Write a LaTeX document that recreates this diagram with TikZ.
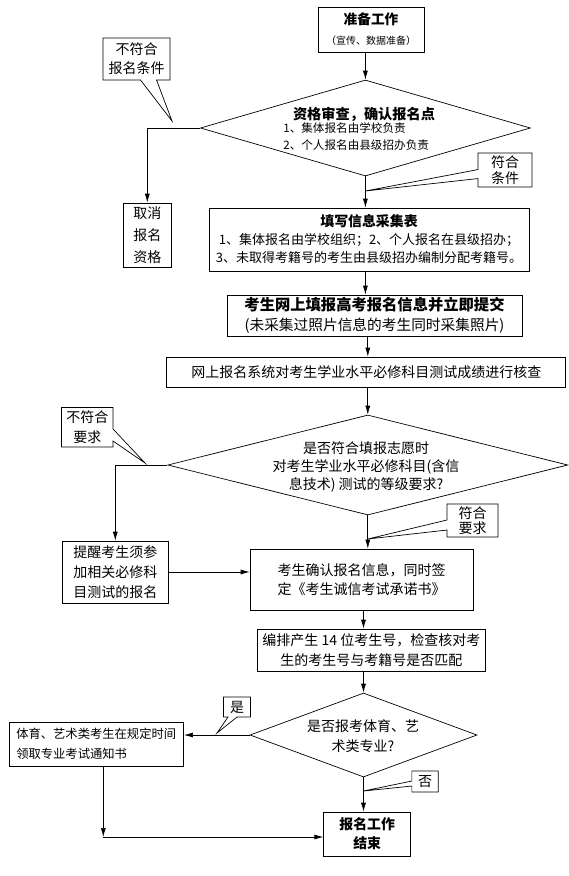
\documentclass[tikz,border=0pt]{standalone}
\usepackage{fontspec}
\setmainfont{Noto Sans CJK SC}
\usetikzlibrary{shapes.geometric,shapes.callouts,arrows.meta}

\begin{document}
\begin{tikzpicture}[x=1pt,y=-1pt,line width=0.7pt,
    box/.style={draw,rectangle,inner sep=0pt,align=center,font=\fontsize{14}{20}\selectfont},
    decision/.style={draw,diamond,inner sep=0pt},
    note/.style={draw,fill=white,rectangle callout,inner sep=0pt,align=center,font=\fontsize{14}{19}\selectfont},
    arr/.style={-{Latex[length=9pt,width=5pt]}}]
  \useasboundingbox (0,0) rectangle (568,876);

  \node[box,minimum width=106pt,minimum height=45pt] (prep) at (371,29.5) {{\bfseries\fontsize{13.7}{20}\selectfont 准备工作}\\{\fontsize{10}{12}\selectfont （宣传、数据准备）}};
  \node[decision,minimum width=330pt,minimum height=96pt] (d1) at (365.4,128) {};
  \node[font=\bfseries\fontsize{14.2}{17}\selectfont] (d1title) at (364,114) {资格审查，确认报名点};
  \node[align=left,anchor=west,inner sep=0pt,font=\fontsize{11.6}{17}\selectfont] (d1list) at (283,136.5) {1、集体报名由学校负责\\2、个人报名由县级招办负责};
  \node[box,minimum width=48.5pt,minimum height=64pt,font=\fontsize{14}{21.7}\selectfont] (cancel) at (147.3,235) {取消\\报名\\资格};
  \node[box,minimum width=320pt,minimum height=63pt,font=\fontsize{13}{18}\selectfont] (fill) at (369,239.5) {{\bfseries\fontsize{13.9}{18}\selectfont 填写信息采集表}\\1、集体报名由学校组织；2、个人报名在县级招办；\\3、未取得考籍号的考生由县级招办编制分配考籍号。};
  \node[box,minimum width=295pt,minimum height=41pt] (online) at (374.5,315.5) {{\bfseries\fontsize{15.3}{20}\selectfont 考生网上填报高考报名信息并立即提交}\\{\fontsize{14.7}{20}\selectfont (未采集过照片信息的考生同时采集照片)}};
  \node[box,minimum width=399pt,minimum height=30pt] (check) at (366.3,372) {网上报名系统对考生学业水平必修科目测试成绩进行核查};
  \node[decision,minimum width=400pt,minimum height=100pt] (d2) at (367.8,465) {};
  \node[align=center,font=\fontsize{14}{18}\selectfont] (d2text) at (366,467) {是否符合填报志愿时\\对考生学业水平必修科目(含信\\息技术) 测试的等级要求?};
  \node[box,minimum width=106.6pt,minimum height=62pt] (remind) at (115.3,572) {提醒考生须参\\加相关必修科\\目测试的报名};
  \node[box,minimum width=223.4pt,minimum height=61pt,font=\fontsize{14}{19}\selectfont] (confirm) at (361.7,579.5) {考生确认报名信息，同时签\\定《考生诚信考试承诺书》};
  \node[box,minimum width=228pt,minimum height=42pt] (number) at (371.4,650) {编排产生 14 位考生号，检查核对考\\生的考生号与考籍号是否匹配};
  \node[decision,minimum width=227pt,minimum height=84pt] (d3) at (363.5,735) {};
  \node[align=center,font=\fontsize{14}{20}\selectfont] (d3text) at (363,736) {是否报考体育、艺\\术类专业?};
  \node[box,minimum width=174.6pt,minimum height=44pt,text width=160pt,align=left,font=\fontsize{12.3}{20}\selectfont] (art) at (96.3,744) {体育、艺术类考生在规定时间\\领取专业考试通知书};
  \node[box,minimum width=87pt,minimum height=44pt,font=\bfseries\fontsize{13.9}{19}\selectfont] (done) at (367.2,834) {报名工作\\结束};

  \foreach \from/\to/\col in {prep/d1/d1, d1/fill/d1, fill/online/d1, online/check/d2, check/d2/d2, d2/confirm/d2, confirm/number/d3, number/d3/d3, d3/done/d3}
    \draw[arr] (\col |- \from.south) -- (\col |- \to.north);
  \draw[arr] (d1.west) -| (cancel.north);
  \draw[arr] (d2.west) -| (remind.north);
  \draw[arr] (remind.east) -- (remind.east -| confirm.west);
  \draw[arr] (d3.west) -- (d3.west -| art.east);
  \coordinate (artturn) at (103.3,837);
  \draw[arr] (artturn |- art.south) -- (artturn);
  \draw[arr] (artturn) -- (artturn -| done.west);

  \coordinate (c1tip) at (172,121);
  \coordinate (c2tip) at (365.4,191);
  \coordinate (c3tip) at (145,463);
  \coordinate (c4tip) at (367.8,539);
  \coordinate (c5tip) at (217,733);
  \coordinate (c6tip) at (363.5,791);
  \node[note,minimum width=67pt,minimum height=42pt,callout absolute pointer={(c1tip)},callout pointer width=16pt] (c1) at (136.5,59) {不符合\\报名条件};
  \node[note,minimum width=54pt,minimum height=34pt,font=\fontsize{14}{16}\selectfont,callout absolute pointer={(c2tip)},callout pointer width=9pt] (c2) at (505,170) {符合\\条件};
  \node[note,minimum width=51.5pt,minimum height=39.5pt,font=\fontsize{14}{20}\selectfont,callout absolute pointer={(c3tip)},callout pointer width=12pt] (c3) at (87.3,427.3) {不符合\\要求};
  \node[note,minimum width=51pt,minimum height=33pt,font=\fontsize{14}{15}\selectfont,callout absolute pointer={(c4tip)},callout pointer width=10pt] (c4) at (472.5,520.5) {符合\\要求};
  \node[note,minimum width=27pt,minimum height=20pt,callout absolute pointer={(c5tip)},callout pointer width=9pt] (c5) at (237,707) {是};
  \node[note,minimum width=26.3pt,minimum height=21pt,callout absolute pointer={(c6tip)},callout pointer width=5pt] (c6) at (425,781.5) {否};
\end{tikzpicture}
\end{document}
